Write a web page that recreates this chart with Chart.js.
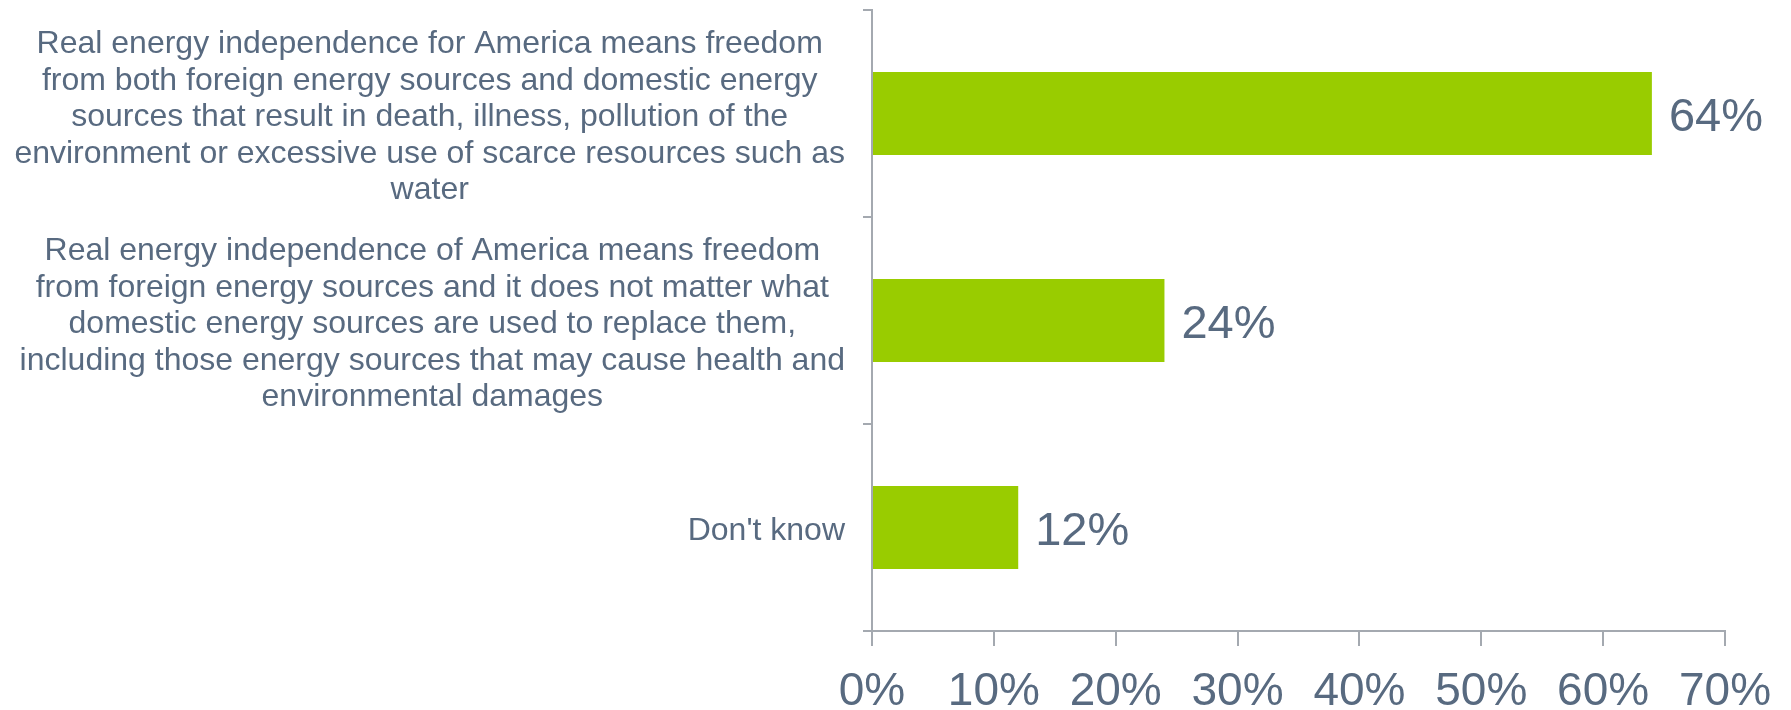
<!DOCTYPE html>
<html>
<head>
<meta charset="utf-8">
<script src="https://cdn.jsdelivr.net/npm/chart.js@4/dist/chart.umd.min.js"></script>
<style>
  html, body { margin: 0; padding: 0; background: #fff; }
  #wrap { width: 1791px; height: 710px; position: relative; }
</style>
</head>
<body>
<div id="wrap"><canvas id="chart"></canvas></div>
<script>
// answers (one array of lines per label) and their shares
const categories = [
  [
    "Real energy independence for America means freedom",
    "from both foreign energy sources and domestic energy",
    "sources that result in death, illness, pollution of the",
    "environment or excessive use of scarce resources such as",
    "water",
  ],
  [
    "Real energy independence of America means freedom",
    "from foreign energy sources and it does not matter what",
    "domestic energy sources are used to replace them,",
    "including those energy sources that may cause health and",
    "environmental damages",
  ],
  ["Don't know"],
];
const shares = [64, 24, 12];
const xTicks = [0, 10, 20, 30, 40, 50, 60, 70];

const TEXT = "#586a80";
const AXIS = "#a4a9b0";
const FONT = "'Liberation Sans', Arial, sans-serif";

// value labels to the right of each bar
const valueLabels = {
  id: "valueLabels",
  afterDatasetsDraw(chart) {
    const ctx = chart.ctx;
    const meta = chart.getDatasetMeta(0);
    ctx.save();
    ctx.font = "47px " + FONT;
    ctx.fillStyle = TEXT;
    ctx.textAlign = "left";
    ctx.textBaseline = "middle";
    meta.data.forEach((bar, i) => {
      ctx.fillText(shares[i] + "%", bar.x + 17, bar.y + 5);
    });
    ctx.restore();
  },
};

// category text: each block right-aligned, its lines centred within it
const categoryLabels = {
  id: "categoryLabels",
  afterDraw(chart) {
    const ctx = chart.ctx;
    const scale = chart.scales.y;
    const right = scale.right - 27;
    const lh = 36.5;
    ctx.save();
    ctx.font = "32px " + FONT;
    ctx.fillStyle = TEXT;
    ctx.textAlign = "center";
    ctx.textBaseline = "middle";
    categories.forEach((lines, i) => {
      const w = Math.max(...lines.map((l) => ctx.measureText(l).width));
      const cx = right - w / 2;
      const cy = scale.getPixelForTick(i) + 4;
      const y0 = cy - ((lines.length - 1) * lh) / 2;
      lines.forEach((l, j) => ctx.fillText(l, cx, y0 + j * lh));
    });
    ctx.restore();
  },
};

new Chart(document.getElementById("chart"), {
  type: "bar",
  data: {
    labels: categories.map((c) => c.join(" ")),
    datasets: [
      {
        data: shares,
        backgroundColor: "#99cc00",
        categoryPercentage: 1,
        barPercentage: 0.4,
      },
    ],
  },
  options: {
    indexAxis: "y",
    responsive: true,
    maintainAspectRatio: false,
    animation: false,
    layout: { padding: { top: 10, right: 66, left: 0, bottom: 0 } },
    plugins: {
      legend: { display: false },
      tooltip: { enabled: false },
    },
    scales: {
      x: {
        min: 0,
        max: 70,
        afterBuildTicks: (axis) => {
          axis.ticks = xTicks.map((v) => ({ value: v }));
        },
        afterFit: (axis) => {
          axis.height = 79;
        },
        grid: {
          drawOnChartArea: false,
          drawTicks: true,
          tickLength: 15,
          color: AXIS,
          lineWidth: 2,
        },
        border: { color: AXIS, width: 2 },
        ticks: {
          color: TEXT,
          font: { family: FONT, size: 46 },
          padding: 19,
          maxRotation: 0,
          callback: (v) => v + "%",
        },
      },
      y: {
        afterFit: (axis) => {
          axis.width = 872;
        },
        grid: {
          offset: true,
          drawOnChartArea: false,
          drawTicks: true,
          tickLength: 9,
          color: AXIS,
          lineWidth: 2,
        },
        border: { color: AXIS, width: 2 },
        ticks: { display: false },
      },
    },
  },
  plugins: [valueLabels, categoryLabels],
});
</script>
</body>
</html>
